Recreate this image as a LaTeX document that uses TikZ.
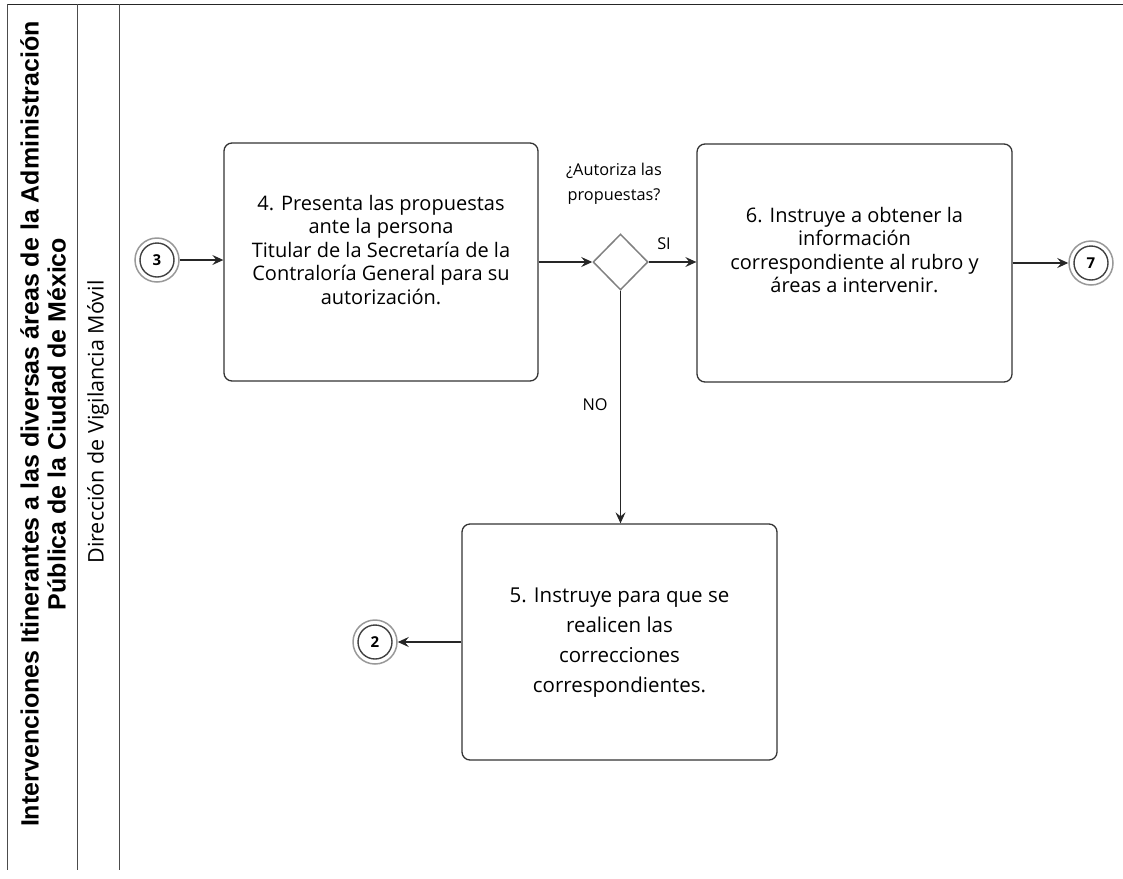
\documentclass[tikz,border=0pt]{standalone}
\usepackage{fontspec}
\setmainfont{Open Sans}
\newfontfamily\lanefont{Liberation Sans}
\usetikzlibrary{arrows.meta, shapes.geometric}

\begin{document}
\begin{tikzpicture}[x=1pt, y=-1pt,
  frame/.style={line width=0.9pt, draw=black!70},
  taskbox/.style={draw=black!80, line width=1.3pt, rounded corners=8pt,
    minimum width=314pt, minimum height=238pt, inner sep=0pt},
  tasktext/.style={align=center, inner sep=0pt, font=\fontsize{20}{23.5}\selectfont},
  event/.style={circle, draw=black!40, line width=1.5pt, minimum size=44pt, inner sep=0pt,
    font=\bfseries\fontsize{15}{17}\selectfont,
    path picture={\draw[black!75, line width=1.4pt] (path picture bounding box.center) circle (17pt);}},
  gateway/.style={diamond, draw=black!50, line width=1.5pt, minimum width=55pt,
    minimum height=56pt, inner sep=0pt},
  note/.style={align=center, inner sep=0pt, font=\fontsize{16.3}{25}\selectfont},
  conn/.style={draw=black!85, line width=1.2pt, -{Stealth[length=11pt, width=10pt, inset=4pt]}}
]
\useasboundingbox (0,0) rectangle (1123,878);

% pool and lane frame
\draw[line width=1.8pt, black!85] (7,4.5) -- (1123,4.5);
\draw[frame] (7,4) -- (7,870);
\draw[frame] (77.5,4) -- (77.5,870);
\draw[frame] (119,4) -- (119,870);

\node[rotate=90, align=center, inner sep=0pt,
  font=\lanefont\bfseries\fontsize{25}{27}\selectfont] (pool) at (43,424)
  {Intervenciones Itinerantes a las diversas áreas de la Administración\\Pública de la Ciudad de México};
\node[rotate=90, inner sep=0pt, font=\fontsize{21.5}{24}\selectfont] (lane) at (98,422)
  {Dirección de Vigilancia Móvil};

% activities
\node[taskbox] (t4) at (381,262) {};
\node[tasktext] (t4txt) at (381,250)
  {4. Presenta las propuestas\\ante la persona\\Titular de la Secretaría de la\\Contraloría General para su\\autorización.};

\node[taskbox, minimum width=315pt] (t6) at (854.5,263) {};
\node[tasktext] (t6txt) at (854.5,250)
  {6. Instruye a obtener la\\información\\correspondiente al rubro y\\áreas a intervenir.};

\node[taskbox, minimum width=315pt, minimum height=236pt] (t5) at (619.5,642) {};
\node[tasktext, font=\fontsize{20.5}{30}\selectfont] (t5txt) at (619.5,643)
  {5. Instruye para que se\\realicen las\\correcciones\\correspondientes.};

% decision
\node[gateway] (gate) at (620.5,262) {};
\node[note] (q) at (614,184) {¿Autoriza las\\propuestas?};
\node[note] (si) at (664,244) {SI};
\node[note] (no) at (595,405) {NO};

% off-page connectors
\node[event] (e3) at (157,260) {3};
\node[event] (e7) at (1091,263) {7};
\node[event] (e2) at (375,642) {2};

% flows
\draw[conn] (e3.east) -- (e3.east -| t4.west);
\draw[conn] (t4.east |- gate) -- (gate.west);
\draw[conn] (gate.east) -- (gate.east -| t6.west);
\draw[conn] (t6.east |- e7) -- (e7.west);
\draw[conn] (gate.south) -- (gate.south |- t5.north);
\draw[conn] (t5.west |- e2) -- (e2.east);
\end{tikzpicture}
\end{document}
